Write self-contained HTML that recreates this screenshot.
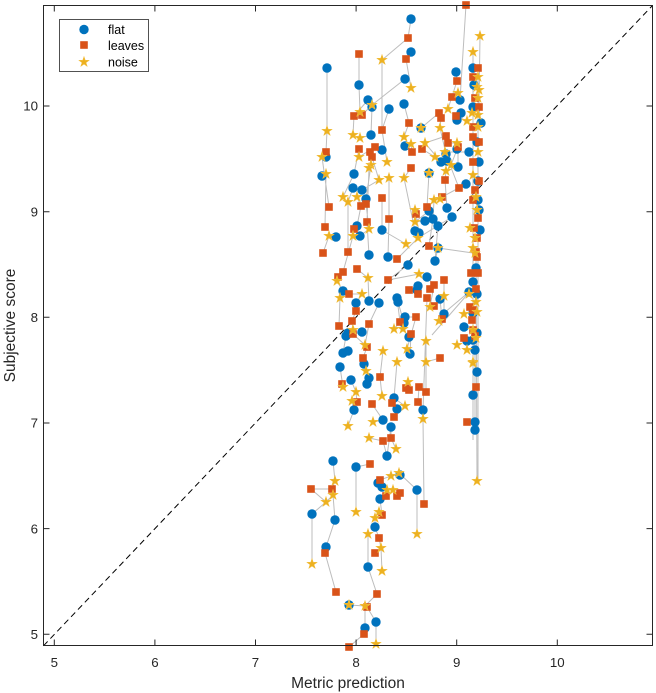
<!DOCTYPE html>
<html><head><meta charset="utf-8"><style>
html,body{margin:0;padding:0;background:#fff;}
svg{display:block;font-family:"Liberation Sans",Arial,sans-serif;}
</style></head><body>
<svg width="656" height="693" viewBox="0 0 656 693" xmlns="http://www.w3.org/2000/svg">
<defs>
<path id="st" d="M0,-5.6 L1.26,-1.74 L5.33,-1.74 L2.04,0.66 L3.29,4.53 L0,2.14 L-3.29,4.53 L-2.04,0.66 L-5.33,-1.74 L-1.26,-1.74Z" fill="#EDB120" stroke="#F3C24A" stroke-width="0.5"/>
<circle id="ci" r="4.7" fill="#0072BD"/>
<rect id="sq" x="-3.8" y="-3.8" width="7.6" height="7.6" fill="#D95319"/>
</defs>
<rect x="0" y="0" width="656" height="693" fill="#fff"/>
<!-- diagonal -->
<line x1="43.5" y1="645.8" x2="652.5" y2="5.5" stroke="#000" stroke-width="1" stroke-dasharray="6,4"/>
<!-- gray connection lines -->
<path fill="none" stroke="#BDBDBD" stroke-width="1" d="
M411,19 L408,38 L382,60 M411,52 L406,59 L411,88 M327,68 L327,131 L326,152
M466,5 L460,100 L458,93 M480,36 L479,107 L481,123 M473,52 L473,68 L473,77
M359,54 L359,85 L360,112 M456,72 L457,81 L448,109 M405,79 L372,105 L362,115
M368,100 L354,116 L353,135 M389,109 L382,130 L387,162 M382,60 L382,130
M404,104 L409,123 L404,137 M372,107 L371,135 L360,138 M457,120 L456,116 L467,121
M421,128 L439,113 M441,118 L440,128 L446,154 M446,136 L425,143 L441,162
M448,143 L457,143 L457,149 M405,146 L411,144 L412,152 M422,149 L435,157 L447,161
M382,150 L375,147 L359,157 M370,152 L371,165 L366,199 M326,157 L322,157 L329,207
M359,149 L354,174 L343,197 M372,157 L379,180 L362,190 M458,167 L458,147 L451,165
M469,152 L445,152 L459,188 M322,176 L326,174 L325,227 M411,168 L404,178 L415,231
M369,168 L367,222 L369,255 M389,178 L389,219 L388,257 M429,173 L427,207
M446,171 L445,180 L447,208 M466,184 L442,197 L440,199 M353,188 L348,202 L348,252
M357,197 L361,206 L357,226 M366,204 L369,229 L360,236 M382,198 L382,230 L406,244
M415,210 L416,214 L419,233 M434,200 L433,219 L429,246 M429,211 L415,222 L425,221
M452,217 L418,238 L397,259 M354,229 L353,236 L343,272 M336,237 L329,236 L323,253
M438,248 L435,261 L438,226 M408,265 L388,280 L419,274 M357,269 L368,278 L369,301
M338,277 L337,281 L343,291 M444,280 L444,296 L444,314 M427,277 L434,285 L430,307
M418,286 L418,294 L409,290 M349,294 L362,294 L356,303 M340,298 L339,326 L348,333
M397,298 L400,322 L394,329 M398,302 L404,323 L403,329 M379,303 L369,324 L365,345
M440,299 L442,319 L439,321 M427,298 L423,410 M405,317 L416,317 L407,349
M356,311 L352,321 L353,330 M362,332 L353,334 L365,345 M409,337 L411,334 L410,354
M346,336 L343,353 L348,351 M367,347 L363,358 L364,364 M383,351 L380,377 L382,396
M397,362 L394,398 L405,406 M426,341 L426,362 L426,392 M440,358 L426,362
M340,367 L343,387 L342,384 M366,371 L369,378 L367,384 M351,380 L356,392 L357,402
M408,382 L406,388 L409,390 M419,387 L418,402 L423,410 M352,401 L354,410 L348,426
M372,404 L383,420 L373,422 M392,403 L397,409 L394,417 M391,427 L391,438 L396,449
M369,438 L383,441 L387,456 M423,419 L423,410 M333,461 L335,481 L332,489
M370,464 L356,467 L356,512 M400,475 L399,473 L417,490 L417,534
M378,483 L380,480 L391,476 M382,487 L387,490 L386,496 M400,493 L397,496 L393,490
M424,504 L423,419 M311,489 L326,502 L312,514 L312,564 M311,489 L332,489 M326,502 L333,495
M333,495 L335,520 L326,547 L325,553 L336,592
M380,499 L382,515 L379,512 L375,518 L375,527 L379,538 L381,548 L382,571
M368,534 L368,567 L377,594 L365,606 L367,607 L376,622 L376,644
M349,605 L365,606 M365,606 L365,628 L364,634 L349,647
M473,68 L473,440 M478,68 L478,480 M476,250 L477,481 M475,336 L475,430
M469,292 L444,313 M438,248 L473,253 M432,335 L473,288 M387,456 L391,427
"/>
<!-- flat (circles) -->
<g>
<use href="#ci" x="411" y="19"/><use href="#ci" x="411" y="52"/><use href="#ci" x="327" y="68"/><use href="#ci" x="456" y="72"/><use href="#ci" x="473" y="68"/><use href="#ci" x="359" y="85"/><use href="#ci" x="405" y="79"/><use href="#ci" x="460" y="100"/><use href="#ci" x="368" y="100"/><use href="#ci" x="372" y="107"/><use href="#ci" x="389" y="109"/><use href="#ci" x="404" y="104"/><use href="#ci" x="457" y="120"/><use href="#ci" x="421" y="128"/><use href="#ci" x="371" y="135"/><use href="#ci" x="405" y="146"/><use href="#ci" x="382" y="150"/><use href="#ci" x="326" y="157"/><use href="#ci" x="446" y="154"/><use href="#ci" x="457" y="149"/><use href="#ci" x="469" y="152"/><use href="#ci" x="441" y="162"/><use href="#ci" x="447" y="161"/><use href="#ci" x="458" y="167"/><use href="#ci" x="322" y="176"/><use href="#ci" x="354" y="174"/><use href="#ci" x="429" y="173"/><use href="#ci" x="466" y="184"/><use href="#ci" x="353" y="188"/><use href="#ci" x="362" y="190"/><use href="#ci" x="366" y="199"/><use href="#ci" x="429" y="211"/><use href="#ci" x="447" y="208"/><use href="#ci" x="452" y="217"/><use href="#ci" x="357" y="226"/><use href="#ci" x="382" y="230"/><use href="#ci" x="425" y="221"/><use href="#ci" x="433" y="219"/><use href="#ci" x="438" y="226"/><use href="#ci" x="336" y="237"/><use href="#ci" x="360" y="236"/><use href="#ci" x="415" y="231"/><use href="#ci" x="419" y="233"/><use href="#ci" x="438" y="248"/><use href="#ci" x="369" y="255"/><use href="#ci" x="388" y="257"/><use href="#ci" x="435" y="261"/><use href="#ci" x="408" y="265"/><use href="#ci" x="427" y="277"/><use href="#ci" x="343" y="291"/><use href="#ci" x="418" y="286"/><use href="#ci" x="417" y="290"/><use href="#ci" x="356" y="303"/><use href="#ci" x="369" y="301"/><use href="#ci" x="379" y="303"/><use href="#ci" x="397" y="298"/><use href="#ci" x="398" y="302"/><use href="#ci" x="440" y="299"/><use href="#ci" x="444" y="314"/><use href="#ci" x="405" y="317"/><use href="#ci" x="404" y="323"/><use href="#ci" x="362" y="332"/><use href="#ci" x="348" y="333"/><use href="#ci" x="464" y="327"/><use href="#ci" x="346" y="336"/><use href="#ci" x="409" y="337"/><use href="#ci" x="410" y="354"/><use href="#ci" x="343" y="353"/><use href="#ci" x="348" y="351"/><use href="#ci" x="364" y="364"/><use href="#ci" x="340" y="367"/><use href="#ci" x="351" y="380"/><use href="#ci" x="369" y="378"/><use href="#ci" x="367" y="384"/><use href="#ci" x="394" y="398"/><use href="#ci" x="397" y="409"/><use href="#ci" x="423" y="410"/><use href="#ci" x="354" y="410"/><use href="#ci" x="383" y="420"/><use href="#ci" x="391" y="427"/><use href="#ci" x="387" y="456"/><use href="#ci" x="333" y="461"/><use href="#ci" x="356" y="467"/><use href="#ci" x="400" y="475"/><use href="#ci" x="378" y="483"/><use href="#ci" x="417" y="490"/><use href="#ci" x="382" y="487"/><use href="#ci" x="380" y="499"/><use href="#ci" x="312" y="514"/><use href="#ci" x="335" y="520"/><use href="#ci" x="375" y="527"/><use href="#ci" x="326" y="547"/><use href="#ci" x="368" y="567"/><use href="#ci" x="349" y="605"/><use href="#ci" x="376" y="622"/><use href="#ci" x="365" y="628"/>
<use href="#ci" x="474" y="85"/><use href="#ci" x="473" y="107"/><use href="#ci" x="481" y="123"/><use href="#ci" x="477" y="142"/><use href="#ci" x="479" y="162"/><use href="#ci" x="478" y="181"/><use href="#ci" x="479" y="210"/><use href="#ci" x="476" y="268"/><use href="#ci" x="473" y="282"/><use href="#ci" x="469" y="292"/><use href="#ci" x="477" y="294"/><use href="#ci" x="473" y="313"/><use href="#ci" x="477" y="333"/><use href="#ci" x="467" y="341"/><use href="#ci" x="473" y="340"/><use href="#ci" x="475" y="350"/><use href="#ci" x="477" y="372"/><use href="#ci" x="473" y="395"/><use href="#ci" x="475" y="422"/><use href="#ci" x="475" y="430"/><use href="#ci" x="461" y="113"/><use href="#ci" x="480" y="230"/><use href="#ci" x="478" y="200"/>
</g>
<!-- leaves (squares) -->
<g>
<use href="#sq" x="466" y="5"/><use href="#sq" x="408" y="38"/><use href="#sq" x="359" y="54"/><use href="#sq" x="406" y="59"/><use href="#sq" x="478" y="68"/><use href="#sq" x="457" y="81"/><use href="#sq" x="452" y="97"/><use href="#sq" x="354" y="116"/><use href="#sq" x="362" y="115"/><use href="#sq" x="439" y="113"/><use href="#sq" x="441" y="118"/><use href="#sq" x="456" y="116"/><use href="#sq" x="382" y="130"/><use href="#sq" x="409" y="123"/><use href="#sq" x="446" y="136"/><use href="#sq" x="448" y="143"/><use href="#sq" x="422" y="149"/><use href="#sq" x="359" y="149"/><use href="#sq" x="375" y="147"/><use href="#sq" x="370" y="152"/><use href="#sq" x="326" y="152"/><use href="#sq" x="372" y="157"/><use href="#sq" x="458" y="147"/><use href="#sq" x="411" y="168"/><use href="#sq" x="412" y="152"/><use href="#sq" x="445" y="180"/><use href="#sq" x="459" y="188"/><use href="#sq" x="382" y="198"/><use href="#sq" x="329" y="207"/><use href="#sq" x="361" y="206"/><use href="#sq" x="366" y="204"/><use href="#sq" x="416" y="214"/><use href="#sq" x="427" y="207"/><use href="#sq" x="442" y="197"/><use href="#sq" x="389" y="219"/><use href="#sq" x="367" y="222"/><use href="#sq" x="354" y="229"/><use href="#sq" x="325" y="227"/><use href="#sq" x="429" y="246"/><use href="#sq" x="323" y="253"/><use href="#sq" x="348" y="252"/><use href="#sq" x="397" y="259"/><use href="#sq" x="343" y="272"/><use href="#sq" x="357" y="269"/><use href="#sq" x="338" y="277"/><use href="#sq" x="444" y="280"/><use href="#sq" x="388" y="280"/><use href="#sq" x="434" y="285"/><use href="#sq" x="349" y="294"/><use href="#sq" x="409" y="290"/><use href="#sq" x="418" y="294"/><use href="#sq" x="430" y="289"/><use href="#sq" x="427" y="298"/><use href="#sq" x="434" y="306"/><use href="#sq" x="356" y="311"/><use href="#sq" x="442" y="319"/><use href="#sq" x="416" y="317"/><use href="#sq" x="352" y="321"/><use href="#sq" x="400" y="322"/><use href="#sq" x="369" y="324"/><use href="#sq" x="339" y="326"/><use href="#sq" x="353" y="334"/><use href="#sq" x="411" y="334"/><use href="#sq" x="367" y="347"/><use href="#sq" x="363" y="358"/><use href="#sq" x="440" y="358"/><use href="#sq" x="380" y="377"/><use href="#sq" x="342" y="384"/><use href="#sq" x="406" y="388"/><use href="#sq" x="409" y="390"/><use href="#sq" x="419" y="387"/><use href="#sq" x="426" y="392"/><use href="#sq" x="357" y="402"/><use href="#sq" x="372" y="404"/><use href="#sq" x="392" y="403"/><use href="#sq" x="418" y="402"/><use href="#sq" x="394" y="417"/><use href="#sq" x="383" y="441"/><use href="#sq" x="391" y="438"/><use href="#sq" x="370" y="464"/><use href="#sq" x="380" y="480"/><use href="#sq" x="311" y="489"/><use href="#sq" x="332" y="489"/><use href="#sq" x="400" y="493"/><use href="#sq" x="386" y="496"/><use href="#sq" x="397" y="496"/><use href="#sq" x="424" y="504"/><use href="#sq" x="382" y="515"/><use href="#sq" x="325" y="553"/><use href="#sq" x="379" y="538"/><use href="#sq" x="375" y="553"/><use href="#sq" x="336" y="592"/><use href="#sq" x="377" y="594"/><use href="#sq" x="367" y="607"/><use href="#sq" x="364" y="634"/><use href="#sq" x="349" y="647"/>
<use href="#sq" x="473" y="77"/><use href="#sq" x="475" y="98"/><use href="#sq" x="479" y="107"/><use href="#sq" x="473" y="127"/><use href="#sq" x="473" y="137"/><use href="#sq" x="479" y="142"/><use href="#sq" x="473" y="162"/><use href="#sq" x="479" y="181"/><use href="#sq" x="475" y="190"/><use href="#sq" x="473" y="200"/><use href="#sq" x="478" y="218"/><use href="#sq" x="474" y="228"/><use href="#sq" x="477" y="238"/><use href="#sq" x="476" y="252"/><use href="#sq" x="477" y="257"/><use href="#sq" x="471" y="273"/><use href="#sq" x="478" y="273"/><use href="#sq" x="476" y="289"/><use href="#sq" x="470" y="307"/><use href="#sq" x="473" y="310"/><use href="#sq" x="472" y="320"/><use href="#sq" x="473" y="330"/><use href="#sq" x="464" y="338"/><use href="#sq" x="476" y="387"/><use href="#sq" x="467" y="422"/><use href="#sq" x="475" y="336"/>
</g>
<!-- noise (stars) -->
<g>
<use href="#st" x="480" y="36"/><use href="#st" x="473" y="52"/><use href="#st" x="382" y="60"/><use href="#st" x="411" y="88"/><use href="#st" x="458" y="93"/><use href="#st" x="372" y="105"/><use href="#st" x="360" y="112"/><use href="#st" x="448" y="109"/><use href="#st" x="467" y="121"/><use href="#st" x="327" y="131"/><use href="#st" x="421" y="128"/><use href="#st" x="440" y="128"/><use href="#st" x="353" y="135"/><use href="#st" x="360" y="138"/><use href="#st" x="404" y="137"/><use href="#st" x="411" y="144"/><use href="#st" x="425" y="143"/><use href="#st" x="457" y="143"/><use href="#st" x="322" y="157"/><use href="#st" x="359" y="157"/><use href="#st" x="387" y="162"/><use href="#st" x="371" y="165"/><use href="#st" x="445" y="152"/><use href="#st" x="435" y="157"/><use href="#st" x="451" y="165"/><use href="#st" x="326" y="174"/><use href="#st" x="369" y="168"/><use href="#st" x="379" y="180"/><use href="#st" x="389" y="178"/><use href="#st" x="404" y="178"/><use href="#st" x="429" y="173"/><use href="#st" x="446" y="171"/><use href="#st" x="343" y="197"/><use href="#st" x="348" y="202"/><use href="#st" x="357" y="197"/><use href="#st" x="415" y="210"/><use href="#st" x="434" y="200"/><use href="#st" x="440" y="199"/><use href="#st" x="369" y="229"/><use href="#st" x="415" y="222"/><use href="#st" x="329" y="236"/><use href="#st" x="353" y="236"/><use href="#st" x="418" y="238"/><use href="#st" x="406" y="244"/><use href="#st" x="438" y="248"/><use href="#st" x="337" y="281"/><use href="#st" x="368" y="278"/><use href="#st" x="419" y="274"/><use href="#st" x="362" y="294"/><use href="#st" x="340" y="298"/><use href="#st" x="444" y="296"/><use href="#st" x="430" y="307"/><use href="#st" x="439" y="321"/><use href="#st" x="394" y="329"/><use href="#st" x="403" y="329"/><use href="#st" x="353" y="330"/><use href="#st" x="365" y="345"/><use href="#st" x="407" y="349"/><use href="#st" x="383" y="351"/><use href="#st" x="397" y="362"/><use href="#st" x="426" y="341"/><use href="#st" x="426" y="362"/><use href="#st" x="457" y="345"/><use href="#st" x="467" y="350"/><use href="#st" x="473" y="362"/><use href="#st" x="366" y="371"/><use href="#st" x="343" y="387"/><use href="#st" x="356" y="392"/><use href="#st" x="408" y="382"/><use href="#st" x="382" y="396"/><use href="#st" x="352" y="401"/><use href="#st" x="405" y="406"/><use href="#st" x="423" y="419"/><use href="#st" x="373" y="422"/><use href="#st" x="348" y="426"/><use href="#st" x="369" y="438"/><use href="#st" x="396" y="449"/><use href="#st" x="335" y="481"/><use href="#st" x="391" y="476"/><use href="#st" x="399" y="473"/><use href="#st" x="333" y="495"/><use href="#st" x="387" y="490"/><use href="#st" x="393" y="490"/><use href="#st" x="326" y="502"/><use href="#st" x="356" y="512"/><use href="#st" x="379" y="512"/><use href="#st" x="375" y="518"/><use href="#st" x="417" y="534"/><use href="#st" x="368" y="534"/><use href="#st" x="381" y="548"/><use href="#st" x="312" y="564"/><use href="#st" x="382" y="571"/><use href="#st" x="349" y="605"/><use href="#st" x="365" y="606"/><use href="#st" x="376" y="644"/><use href="#st" x="477" y="481"/>
<use href="#st" x="478" y="77"/><use href="#st" x="477" y="87"/><use href="#st" x="478" y="98"/><use href="#st" x="478" y="115"/><use href="#st" x="472" y="113"/><use href="#st" x="478" y="127"/><use href="#st" x="478" y="152"/><use href="#st" x="473" y="175"/><use href="#st" x="476" y="197"/><use href="#st" x="477" y="210"/><use href="#st" x="470" y="228"/><use href="#st" x="475" y="238"/><use href="#st" x="473" y="248"/><use href="#st" x="475" y="253"/><use href="#st" x="469" y="294"/><use href="#st" x="476" y="302"/><use href="#st" x="477" y="312"/><use href="#st" x="464" y="314"/><use href="#st" x="473" y="330"/><use href="#st" x="476" y="338"/><use href="#st" x="473" y="363"/><use href="#st" x="479" y="90"/>
</g>
<!-- axes box -->
<rect x="43.5" y="5.5" width="609" height="640" fill="none" stroke="#262626" stroke-width="1"/>
<!-- ticks -->
<path stroke="#262626" stroke-width="1" fill="none" d="
M54.3,645.5 V639.5 M154.9,645.5 V639.5 M255.5,645.5 V639.5 M356.1,645.5 V639.5 M456.7,645.5 V639.5 M557.3,645.5 V639.5
M54.3,5.5 V11.5 M154.9,5.5 V11.5 M255.5,5.5 V11.5 M356.1,5.5 V11.5 M456.7,5.5 V11.5 M557.3,5.5 V11.5
M43.5,634.3 H49.5 M43.5,528.6 H49.5 M43.5,423 H49.5 M43.5,317.3 H49.5 M43.5,211.7 H49.5 M43.5,106 H49.5
M652.5,634.3 H646.5 M652.5,528.6 H646.5 M652.5,423 H646.5 M652.5,317.3 H646.5 M652.5,211.7 H646.5 M652.5,106 H646.5
"/>
<!-- tick labels -->
<g font-size="13.3" fill="#262626" text-anchor="middle">
<text x="54.3" y="667">5</text><text x="154.9" y="667">6</text><text x="255.5" y="667">7</text><text x="356.1" y="667">8</text><text x="456.7" y="667">9</text><text x="557.3" y="667">10</text>
</g>
<g font-size="13.3" fill="#262626" text-anchor="end">
<text x="38" y="639">5</text><text x="38" y="533.3">6</text><text x="38" y="427.7">7</text><text x="38" y="322">8</text><text x="38" y="216.4">9</text><text x="38" y="110.7">10</text>
</g>
<!-- axis labels -->
<text x="348" y="688" font-size="15.5" fill="#262626" text-anchor="middle">Metric prediction</text>
<text x="15" y="325.5" font-size="15.5" fill="#262626" text-anchor="middle" transform="rotate(-90 15 325.5)">Subjective score</text>
<!-- legend -->
<rect x="59.5" y="19.5" width="89" height="52" fill="#fff" stroke="#262626" stroke-width="0.8"/>
<use href="#ci" x="84" y="29.5"/>
<use href="#sq" x="84" y="45"/>
<use href="#st" x="84" y="62"/>
<g font-size="12.5" fill="#000">
<text x="108" y="34">flat</text>
<text x="108" y="50">leaves</text>
<text x="108" y="66.5">noise</text>
</g>
</svg>
</body></html>
